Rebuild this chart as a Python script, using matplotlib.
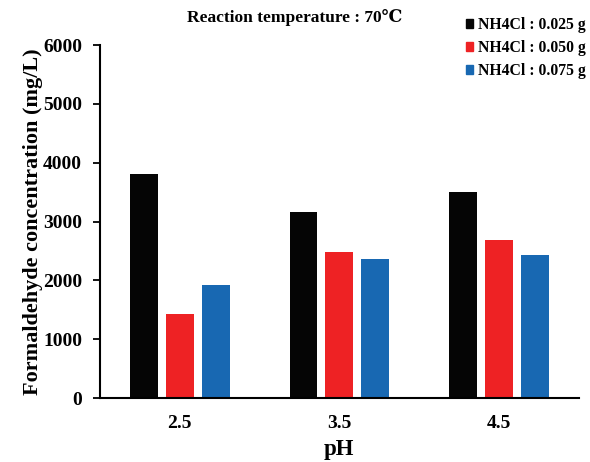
import matplotlib
matplotlib.use("Agg")
import matplotlib.pyplot as plt
import numpy as np
from matplotlib.patches import Patch

plt.rcParams['font.family'] = ['Liberation Serif', 'DejaVu Serif']
plt.rcParams['font.weight'] = 'bold'

ph_labels = ["2.5", "3.5", "4.5"]
series_names = ["NH4Cl : 0.025 g", "NH4Cl : 0.050 g", "NH4Cl : 0.075 g"]
conc_025 = [3810, 3160, 3500]
conc_050 = [1430, 2480, 2690]
conc_075 = [1920, 2360, 2430]
colors = ["#050505", "#ee2224", "#1868b2"]

fig = plt.figure(figsize=(5.9, 4.62), dpi=100)
ax = fig.add_axes([0.1695, 0.1385, 0.8115, 0.764])

x = np.arange(len(ph_labels))
width = 0.175
offset = 0.225
for i, (vals, c) in enumerate(zip([conc_025, conc_050, conc_075], colors)):
    ax.bar(x + (i - 1) * offset, vals, width, color=c, label=series_names[i])

ax.set_xlim(-0.5, 2.5)
ax.set_ylim(0, 6000)
ax.set_yticks(range(0, 6001, 1000))
ax.set_xticks(x)
ax.set_xticklabels(ph_labels)
ax.tick_params(axis='x', length=0, labelsize=14, pad=12)
ax.tick_params(axis='y', direction='out', length=5, width=1.3, labelsize=14, pad=8)
for lab in ax.get_xticklabels() + ax.get_yticklabels():
    lab.set_fontweight('bold')
ax.spines['top'].set_visible(False)
ax.spines['right'].set_visible(False)
ax.spines['left'].set_linewidth(1.5)
ax.spines['bottom'].set_linewidth(1.5)

ax.set_ylabel("Formaldehyde concentration (mg/L)", fontsize=16, fontweight='bold', labelpad=0)
ax.set_xlabel("pH", fontsize=16.5, fontweight='bold', labelpad=5)

fig.text(295 / 590, 1 - 17 / 462, "Reaction temperature : 70\u2103", ha='center', va='center',
         fontsize=12.5, fontweight='bold')

handles = [Patch(color=c) for c in colors]
fig.legend(handles, series_names, loc='upper right', bbox_to_anchor=(1.017, 0.993), frameon=False,
           prop={'size': 11.3, 'weight': 'bold'}, handlelength=0.5, handleheight=0.5,
           handletextpad=0.3, labelspacing=0.45)

fig.savefig("out.png", dpi=100)
